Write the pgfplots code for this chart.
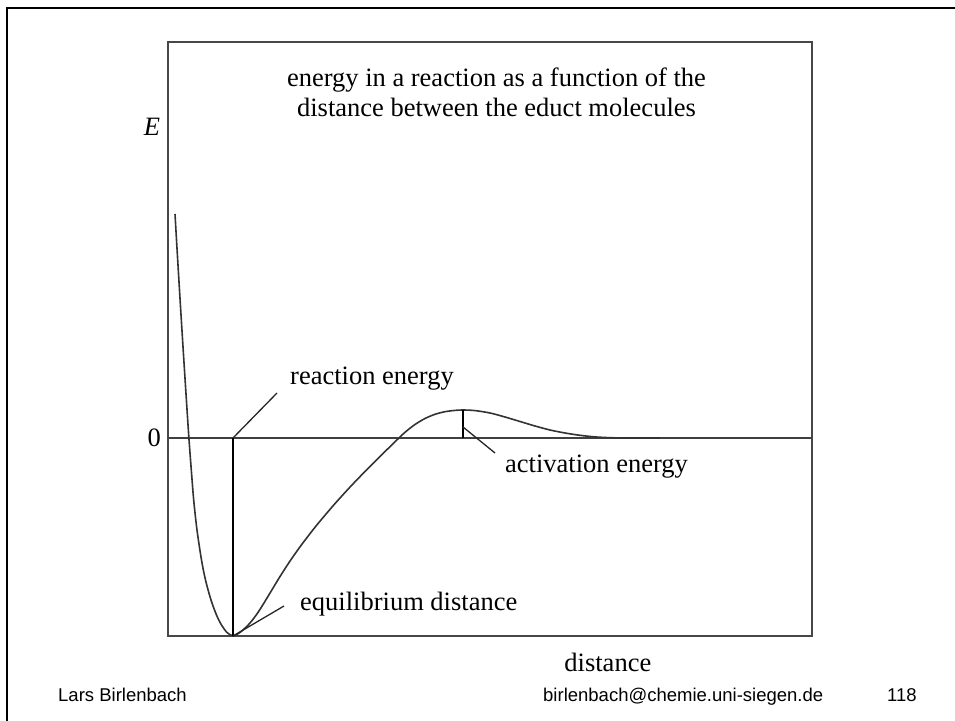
\documentclass[border=0pt]{standalone}
\usepackage{fontspec}
\setmainfont{Liberation Serif}
\newfontfamily\footfont{Liberation Sans}
\usepackage{pgfplots}
\pgfplotsset{compat=1.18}

% potential energy of two molecules versus their separation
% (arbitrary units: zero energy = separated molecules)
\pgfplotstableread{
x     E
7     224
9.1   188
12.1  138
15.2  88
18.4  38
20.9  0
23.3 -32
25.7 -62
29   -92
33.5 -122
37.5 -142
43   -162
48.5 -177
53.5 -187
58.5 -194
62   -196.6
65   -198
70   -195.75
75   -192
82   -185
89   -175.9
95   -166.6
102  -155.05
112  -138.55
122  -123.05
132  -108.85
142  -95.65
152  -83.15
167  -65.6
182  -49.1
197  -33.5
212  -18.5
227  -3.8
237   5.7
247   13.5
257   19.5
267   23.7
277   26.3
287   27.6
295   28
307   27.4
322   25
337   21
352   16.5
367   12
382   8
397   5
412   2.7
427   1.1
442   0.3
457   0
492   0
}\curve

\begin{document}
\begin{tikzpicture}[x=1pt,y=1pt]
\useasboundingbox (0,0) rectangle (955,720);
% slide frame
\draw[line width=2.5pt] (7,-5) -- (7,712) -- (960,712);

\begin{axis}[
  at={(168pt,84pt)}, anchor=south west,
  width=644pt, height=594pt, scale only axis,
  xmin=0, xmax=644, ymin=-198, ymax=396,
  axis line style={line width=1.8pt, black!72},
  xtick=\empty, ytick={0}, yticklabels={0},
  major tick length=0pt,
  yticklabel style={font=\fontsize{26.5}{30}\selectfont, inner sep=0pt, xshift=-7pt},
  ylabel={\textit{E}},
  ylabel style={rotate=-90, font=\fontsize{26.5}{30}\selectfont,
    at={(axis description cs:-0.025,0.857)}, anchor=center},
  xlabel={distance},
  xlabel style={font=\fontsize{26.5}{30}\selectfont,
    at={(axis description cs:0.683,-0.044)}, anchor=center},
  clip=false,
]
% zero level
\addplot[line width=1.5pt, black!75] coordinates {(0,0) (644,0)};
% energy curve
\addplot[line width=1.6pt, black!80, smooth] table[x=x, y=E] {\curve};
% reaction energy (well depth) and activation energy (barrier height)
\addplot[line width=1.6pt, black] coordinates {(65,0) (65,-198)};
\addplot[line width=1.6pt, black] coordinates {(295,0) (295,28)};
% leader lines
\draw[line width=1.3pt, black!85] (axis cs:65,0) -- (axis cs:109,45);
\draw[line width=1.3pt, black!85] (axis cs:295,11) -- (axis cs:327,-15);
\draw[line width=1.3pt, black!85] (axis cs:65,-198) -- (axis cs:116,-168);

\begin{scope}[every node/.style={font=\fontsize{26.5}{30}\selectfont, inner sep=0pt}]
\node[anchor=base west] at (axis cs:122,53) {reaction energy};
\node[anchor=base west] at (axis cs:337,-35) {activation energy};
\node[anchor=base west] at (axis cs:132,-172) {equilibrium distance};
\node[anchor=base] at (axis cs:328.5,351) {energy in a reaction as a function of the};
\node[anchor=base] at (axis cs:328.5,321) {distance between the educt molecules};
\end{scope}
\end{axis}

% footer
\begin{scope}[every node/.style={font=\footfont\fontsize{18.5}{22}\selectfont, inner sep=0pt, anchor=base west}]
\node at (58,19) {Lars Birlenbach};
\node at (543,19) {birlenbach@chemie.uni-siegen.de};
\node at (887,19) {118};
\end{scope}
\end{tikzpicture}
\end{document}
